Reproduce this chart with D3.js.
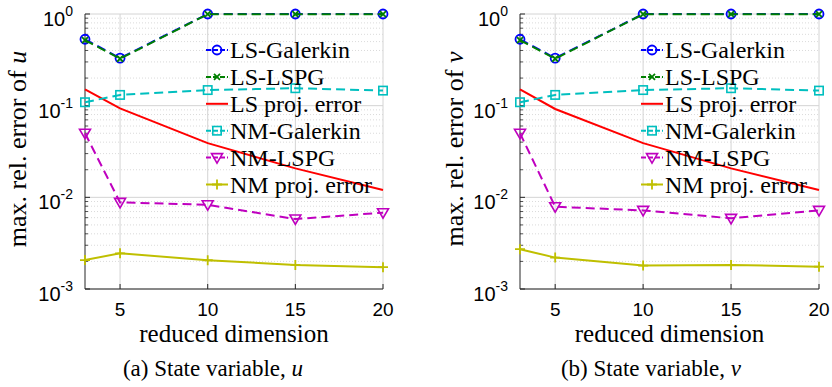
<!DOCTYPE html>
<html>
<head>
<meta charset="utf-8">
<script src="https://cdn.jsdelivr.net/npm/d3@7"></script>
<style>
  body { margin: 0; background: #fff; }
  svg { display: block; }
</style>
</head>
<body>
<svg id="chart" width="832" height="387"></svg>
<script>
// reduced dimensions on the x axis
const dims = [3, 5, 10, 15, 20];
const xTicks = [5, 10, 15, 20];
const yTicks = [1, 0.1, 0.01, 0.001];
const yTickExp = ["0", "-1", "-2", "-3"];

const seriesNames = ["LS-Galerkin", "LS-LSPG", "LS proj. error", "NM-Galerkin", "NM-LSPG", "NM proj. error"];

// state variable u
const uLSGalerkin = [0.53, 0.33, 1.0, 1.0, 1.0];
const uLSLSPG = [0.52, 0.325, 0.995, 0.995, 0.995];
const uLSProj = [0.151, 0.0935, 0.039, 0.0207, 0.012];
const uNMGalerkin = [0.109, 0.131, 0.148, 0.155, 0.146];
const uNMLSPG = [0.05, 0.0088, 0.0083, 0.0058, 0.0068];
const uNMProj = [0.00207, 0.00245, 0.00206, 0.00183, 0.00173];

// state variable v
const vLSGalerkin = [0.53, 0.33, 1.0, 1.0, 1.0];
const vLSLSPG = [0.52, 0.325, 0.995, 0.995, 0.995];
const vLSProj = [0.151, 0.092, 0.039, 0.0207, 0.012];
const vNMGalerkin = [0.109, 0.131, 0.148, 0.155, 0.146];
const vNMLSPG = [0.05, 0.0079, 0.0072, 0.0059, 0.0072];
const vNMProj = [0.00272, 0.0022, 0.0018, 0.00183, 0.00175];

const styles = [
    { color: "#0000ff", dash: "9,5", marker: "circle" },
    { color: "#008000", dash: "9,5", marker: "x" },
    { color: "#ff0000", dash: null, marker: null },
    { color: "#00bfbf", dash: "9,5", marker: "square" },
    { color: "#bf00bf", dash: "9,5", marker: "triangle" },
    { color: "#bfbf00", dash: null, marker: "plus" }
];

const panels = [
    { x0: 85, x1: 383, labelX: 26, capX: 213, letter: "(a) State variable, ", varName: "u",
      data: [uLSGalerkin, uLSLSPG, uLSProj, uNMGalerkin, uNMLSPG, uNMProj] },
    { x0: 520, x1: 819, labelX: 463, capX: 651, letter: "(b) State variable, ", varName: "v",
      data: [vLSGalerkin, vLSLSPG, vLSProj, vNMGalerkin, vNMLSPG, vNMProj] }
];

const plotTop = 14, plotBottom = 289;
const serif = "'Liberation Serif', 'Times New Roman', serif";
const sans = "'Liberation Sans', Arial, sans-serif";

const svg = d3.select("#chart");

function drawMarker(g, type, cx, cy, color) {
    if (type === "circle") {
        g.append("circle").attr("cx", cx).attr("cy", cy).attr("r", 4.5)
            .attr("fill", "none").attr("stroke", color).attr("stroke-width", 1.8);
    } else if (type === "square") {
        g.append("rect").attr("x", cx - 4.2).attr("y", cy - 4.2).attr("width", 8.4).attr("height", 8.4)
            .attr("fill", "none").attr("stroke", color).attr("stroke-width", 1.6);
    } else if (type === "triangle") {
        g.append("path").attr("d", `M${cx - 5.5},${cy - 4} L${cx + 5.5},${cy - 4} L${cx},${cy + 5.5} Z`)
            .attr("fill", "none").attr("stroke", color).attr("stroke-width", 1.6);
    } else if (type === "x") {
        g.append("path").attr("d", `M${cx - 3},${cy - 3} L${cx + 3},${cy + 3} M${cx - 3},${cy + 3} L${cx + 3},${cy - 3}`)
            .attr("stroke", color).attr("stroke-width", 1.8);
    } else if (type === "plus") {
        g.append("path").attr("d", `M${cx - 5},${cy} L${cx + 5},${cy} M${cx},${cy - 5} L${cx},${cy + 5}`)
            .attr("stroke", color).attr("stroke-width", 1.8);
    }
}

panels.forEach(p => {
    const x = d3.scaleLinear().domain([3, 20]).range([p.x0, p.x1]);
    const y = d3.scaleLog().domain([0.001, 1]).range([plotBottom, plotTop]);
    const g = svg.append("g");

    // minor grid (dotted)
    const minor = [];
    [0.001, 0.01, 0.1].forEach(d => { for (let k = 2; k <= 9; k++) minor.push(d * k); });
    g.append("g").selectAll("line").data(minor).enter().append("line")
        .attr("x1", p.x0).attr("x2", p.x1)
        .attr("y1", d => y(d)).attr("y2", d => y(d))
        .attr("stroke", "#d0d0d0").attr("stroke-width", 0.8).attr("stroke-dasharray", "1,2");

    // major grid
    g.append("g").selectAll("line").data(yTicks).enter().append("line")
        .attr("x1", p.x0).attr("x2", p.x1)
        .attr("y1", d => y(d)).attr("y2", d => y(d))
        .attr("stroke", "#d4d4d4").attr("stroke-width", 1);
    g.append("g").selectAll("line").data(xTicks).enter().append("line")
        .attr("x1", d => x(d)).attr("x2", d => x(d))
        .attr("y1", plotTop).attr("y2", plotBottom)
        .attr("stroke", "#d4d4d4").attr("stroke-width", 1);

    // axes: left and bottom only
    g.append("line").attr("x1", p.x0).attr("x2", p.x0).attr("y1", plotTop).attr("y2", plotBottom)
        .attr("stroke", "#262626").attr("stroke-width", 1);
    g.append("line").attr("x1", p.x0).attr("x2", p.x1).attr("y1", plotBottom).attr("y2", plotBottom)
        .attr("stroke", "#262626").attr("stroke-width", 1);

    // inward ticks
    g.append("g").selectAll("line").data(minor).enter().append("line")
        .attr("x1", p.x0).attr("x2", p.x0 + 3)
        .attr("y1", d => y(d)).attr("y2", d => y(d))
        .attr("stroke", "#262626").attr("stroke-width", 0.8);
    g.append("g").selectAll("line").data(yTicks).enter().append("line")
        .attr("x1", p.x0).attr("x2", p.x0 + 5)
        .attr("y1", d => y(d)).attr("y2", d => y(d))
        .attr("stroke", "#262626").attr("stroke-width", 1);
    g.append("g").selectAll("line").data(xTicks).enter().append("line")
        .attr("x1", d => x(d)).attr("x2", d => x(d))
        .attr("y1", plotBottom).attr("y2", plotBottom - 5)
        .attr("stroke", "#262626").attr("stroke-width", 1);

    // y tick labels 10^k
    yTicks.forEach((t, i) => {
        const txt = g.append("text")
            .attr("x", p.x0 - 12).attr("y", y(t) + 12)
            .attr("text-anchor", "end")
            .attr("font-family", sans).attr("font-size", 20).attr("fill", "#000");
        txt.append("tspan").text("10");
        txt.append("tspan").attr("font-size", 14).attr("dy", -10).text(yTickExp[i]);
    });

    // x tick labels
    g.append("g").selectAll("text").data(xTicks).enter().append("text")
        .attr("x", d => x(d)).attr("y", 316)
        .attr("text-anchor", "middle")
        .attr("font-family", sans).attr("font-size", 19).attr("fill", "#000")
        .text(d => d);

    // axis labels
    g.append("text")
        .attr("x", (p.x0 + p.x1) / 2).attr("y", 342)
        .attr("text-anchor", "middle")
        .attr("font-family", serif).attr("font-size", 25)
        .text("reduced dimension");

    const yl = g.append("text")
        .attr("transform", `translate(${p.labelX},149) rotate(-90)`)
        .attr("text-anchor", "middle")
        .attr("font-family", serif).attr("font-size", 26);
    yl.append("tspan").text("max. rel. error of ");
    yl.append("tspan").attr("font-style", "italic").text(p.varName);

    // caption
    const cap = g.append("text")
        .attr("x", p.capX).attr("y", 376)
        .attr("text-anchor", "middle")
        .attr("font-family", serif).attr("font-size", 23);
    cap.append("tspan").text(p.letter);
    cap.append("tspan").attr("font-style", "italic").text(p.varName);

    // series
    const line = d3.line().x((d, i) => x(dims[i])).y(d => y(d));
    p.data.forEach((vals, si) => {
        const st = styles[si];
        const sg = g.append("g");
        sg.append("path").datum(vals)
            .attr("d", line)
            .attr("fill", "none")
            .attr("stroke", st.color)
            .attr("stroke-width", 2)
            .attr("stroke-dasharray", st.dash);
        if (st.marker) {
            vals.forEach((v, i) => drawMarker(sg, st.marker, x(dims[i]), y(v), st.color));
        }
    });

    // legend (transparent, no box)
    const lg = g.append("g");
    seriesNames.forEach((name, i) => {
        const st = styles[i];
        const cy = 50 + i * 26.9;
        const lx0 = p.x0 + 121, lx1 = p.x0 + 143;
        lg.append("line").attr("x1", lx0).attr("x2", lx1).attr("y1", cy).attr("y2", cy)
            .attr("stroke", st.color).attr("stroke-width", 2)
            .attr("stroke-dasharray", st.dash ? "5,2" : null);
        if (st.marker) drawMarker(lg, st.marker, (lx0 + lx1) / 2, cy, st.color);
        lg.append("text")
            .attr("x", p.x0 + 145).attr("y", cy + 8)
            .attr("font-family", serif).attr("font-size", 24)
            .text(name);
    });
});
</script>
</body>
</html>
